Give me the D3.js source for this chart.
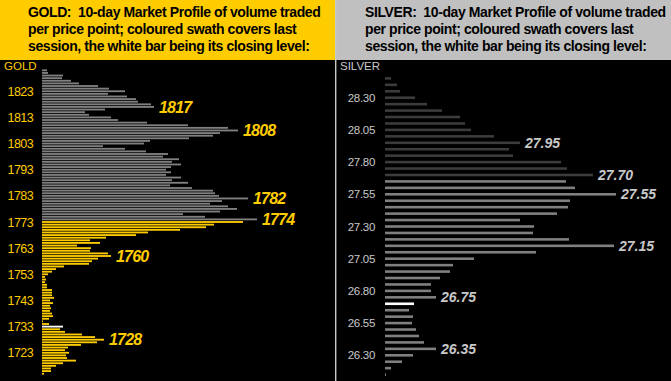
<!DOCTYPE html>
<html>
<head>
<meta charset="utf-8">
<script src="https://cdn.jsdelivr.net/npm/d3@7"></script>
<style>
  html, body { margin: 0; padding: 0; background: #000; }
  svg { display: block; font-family: "Liberation Sans", Arial, sans-serif; }
</style>
</head>
<body>
<div id="chart"></div>
<script>
// gold: one bar per $1, top level first
const goldTop = 1831;
const goldVolume = [
  5, 6, 21, 20, 29, 37, 56, 67, 83, 66, 85, 94, 96, 109, 112, 63, 43, 47, 69, 76,
  105, 146, 186, 196, 178, 171, 147, 108, 102, 61, 83, 104, 126, 121, 137, 130, 139,
  129, 124, 129, 124, 139, 130, 146, 128, 150, 171, 173, 177, 206, 180, 168, 186, 195,
  178, 141, 163, 215,
  201, 172, 164, 138, 106, 94, 64, 48, 58, 35, 49, 48, 66, 69, 56, 50, 47, 22, 14,
  10, 6, 3, 4, 3, 5, 5, 10, 10, 10, 12, 8, 11, 8, 9, 8, 10, 11, 7, 1, 7,
  21, 18, 23, 40, 53, 62, 55, 39, 26, 23, 27, 24, 25, 34, 21, 14, 9, 9, 2
];
const goldTicks = [1823, 1813, 1803, 1793, 1783, 1773, 1763, 1753, 1743, 1733, 1723];
const goldCallouts = [1817, 1808, 1782, 1774, 1760, 1728];
const goldSessionHigh = 1773, goldClose = 1733;

// silver: one bar per 5 cents, top level first
const silverTop = 28.45;
const silverVolume = [
  6, 12, 15, 30, 42, 57, 75, 80, 86, 109, 135, 124, 128, 176,
  182, 208, 181, 190, 231, 185, 183, 172, 135, 149, 148, 184, 229, 151, 89, 68,
  65, 55, 46, 46, 51, 29, 24, 28, 27, 31, 34, 39, 51, 28, 17, 6, 1
];
const silverTicks = ['28.30', '28.05', '27.80', '27.55', '27.30', '27.05', '26.80', '26.55', '26.30'];
const silverCallouts = ['27.95', '27.70', '27.55', '27.15', '26.75', '26.35'];
const silverSessionHigh = 27.65, silverClose = '26.70';

const headerLines = ['10-day Market Profile of volume traded',
  'per price point; coloured swath covers last',
  'session, the white bar being its closing level:'];

const W = 671, H = 381;
const svg = d3.select('#chart').append('svg').attr('width', W).attr('height', H);
svg.append('rect').attr('width', W).attr('height', H).attr('fill', '#000');

// headers
svg.append('rect').attr('x', 0).attr('y', 0).attr('width', 335).attr('height', 60).attr('fill', '#FFCC00');
svg.append('rect').attr('x', 336).attr('y', 0).attr('width', 335).attr('height', 60).attr('fill', '#C0C0C0');
svg.append('rect').attr('x', 335).attr('y', 0).attr('width', 1.4).attr('height', H).attr('fill', '#C8C8C8');

function header(x, name){
  const t = svg.append('text')
    .attr('x', x).attr('y', 16.5)
    .attr('font-size', 14).attr('font-weight', 'bold')
    .attr('letter-spacing', -0.4).attr('fill', '#000');
  headerLines.forEach((l, i) => {
    t.append('tspan').attr('x', x).attr('y', 16.5 + i * 17)
      .text(i === 0 ? name + ':\u00a0 ' + l : l);
  });
}
header(28, 'GOLD');
header(365, 'SILVER');

function profile(o){
  const levels = o.levels;
  const y = d3.scaleBand().domain(levels).range(o.yRange).paddingInner(o.pad);
  const x = d3.scaleLinear().domain([0, d3.max(o.volume)]).range([o.x0, o.x0 + d3.max(o.volume)]);
  const g = svg.append('g');

  g.selectAll('rect.bar')
    .data(levels)
    .enter()
    .append('rect')
    .classed('bar', true)
    .attr('x', x(0))
    .attr('y', d => y(d))
    .attr('width', (d, i) => x(o.volume[i]) - x(0))
    .attr('height', y.bandwidth())
    .attr('fill', (d, i) => o.color(d, i));

  g.selectAll('text.tick')
    .data(o.ticks)
    .enter()
    .append('text')
    .classed('tick', true)
    .attr('x', o.tickX)
    .attr('y', d => y(d) + y.bandwidth() / 2)
    .attr('dy', '0.36em')
    .attr('text-anchor', 'end')
    .attr('font-size', o.tickSize)
    .attr('letter-spacing', o.tickSpacing)
    .attr('fill', o.textColor)
    .text(d => d);

  g.selectAll('text.callout')
    .data(o.callouts)
    .enter()
    .append('text')
    .classed('callout', true)
    .attr('x', d => x(o.volume[levels.indexOf(d)]) + 5)
    .attr('y', d => y(d) + y.bandwidth() / 2)
    .attr('dy', '0.36em')
    .attr('font-size', o.calloutSize)
    .attr('font-weight', 'bold')
    .attr('font-style', 'italic')
    .attr('letter-spacing', o.calloutSpacing)
    .attr('fill', o.textColor)
    .text(d => d);

  g.append('text')
    .attr('x', o.nameX).attr('y', 70)
    .attr('font-size', 11.5)
    .attr('fill', o.textColor)
    .text(o.name);
}

const goldLevels = d3.range(goldTop, goldTop - goldVolume.length, -1);
profile({
  name: 'GOLD', nameX: 4,
  levels: goldLevels, volume: goldVolume,
  ticks: goldTicks, callouts: goldCallouts,
  yRange: [69.4, 374.6], pad: 0.3, x0: 42,
  tickX: 33, tickSize: 12.5, tickSpacing: -0.6,
  calloutSize: 16, calloutSpacing: -0.8,
  textColor: '#FFCC00',
  color: d => d === goldClose ? '#FFFFFF' : (d <= goldSessionHigh ? '#FFCC00' : '#808080')
});

const silverLevels = silverVolume.map((v, i) => (silverTop - i * 0.05).toFixed(2));
profile({
  name: 'SILVER', nameX: 340,
  levels: silverLevels, volume: silverVolume,
  ticks: silverTicks, callouts: silverCallouts,
  yRange: [77.1, 375.9], pad: 0.6, x0: 385,
  tickX: 375, tickSize: 11.5, tickSpacing: -0.3,
  calloutSize: 14, calloutSpacing: 0,
  textColor: '#C8C8C8',
  color: d => d === silverClose ? '#FFFFFF' : (+d <= silverSessionHigh ? '#808080' : '#3C3C3C')
});
</script>
</body>
</html>
